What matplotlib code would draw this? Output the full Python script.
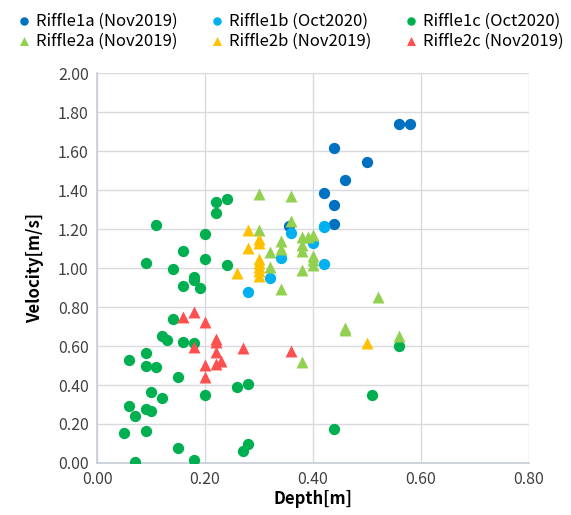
import matplotlib
matplotlib.use("Agg")
import matplotlib.pyplot as plt

plt.rcParams['font.family'] = ['Noto Sans CJK JP', 'DejaVu Sans']

# --- data ---
r1a_depth = [0.56, 0.58, 0.44, 0.50, 0.46, 0.42, 0.44, 0.44, 0.356]
r1a_vel = [1.737, 1.737, 1.614, 1.542, 1.451, 1.385, 1.325, 1.224, 1.215]

r1b_depth = [0.42, 0.36, 0.42, 0.40, 0.34, 0.42, 0.32, 0.28]
r1b_vel = [1.214, 1.178, 1.212, 1.127, 1.05, 1.019, 0.949, 0.877]

r1c_depth = [0.22, 0.24, 0.22, 0.11, 0.20, 0.16, 0.09, 0.20, 0.14, 0.24,
             0.18, 0.18, 0.16, 0.19, 0.14, 0.12, 0.13, 0.16, 0.18, 0.09,
             0.06, 0.09, 0.11, 0.15, 0.10, 0.12, 0.20, 0.06, 0.09, 0.10,
             0.07, 0.05, 0.09, 0.15, 0.18, 0.07, 0.26, 0.28, 0.27, 0.28,
             0.51, 0.44, 0.56]
r1c_vel = [1.337, 1.352, 1.282, 1.219, 1.174, 1.086, 1.024, 1.046, 0.997, 1.015,
           0.952, 0.938, 0.908, 0.899, 0.738, 0.651, 0.631, 0.619, 0.614, 0.562,
           0.528, 0.499, 0.491, 0.440, 0.364, 0.333, 0.350, 0.294, 0.275, 0.268,
           0.243, 0.152, 0.164, 0.077, 0.017, 0.005, 0.388, 0.407, 0.062, 0.096,
           0.349, 0.176, 0.600]

r2a_depth = [0.30, 0.36, 0.36, 0.30, 0.34, 0.34, 0.38, 0.39, 0.40, 0.38,
             0.38, 0.40, 0.40, 0.40, 0.32, 0.32, 0.38, 0.34, 0.52, 0.46,
             0.46, 0.56, 0.38]
r2a_vel = [1.378, 1.369, 1.241, 1.195, 1.138, 1.097, 1.161, 1.160, 1.169, 1.120,
           1.088, 1.061, 1.041, 1.015, 1.084, 1.003, 0.990, 0.890, 0.853, 0.694,
           0.680, 0.651, 0.519]

r2b_depth = [0.28, 0.30, 0.30, 0.28, 0.30, 0.30, 0.30, 0.30, 0.30, 0.26, 0.50]
r2b_vel = [1.195, 1.147, 1.128, 1.101, 1.045, 1.025, 1.005, 0.985, 0.960, 0.976, 0.614]

r2c_depth = [0.16, 0.18, 0.20, 0.22, 0.22, 0.18, 0.22, 0.23, 0.22, 0.20, 0.20, 0.27, 0.36]
r2c_vel = [0.750, 0.776, 0.725, 0.634, 0.620, 0.597, 0.571, 0.525, 0.508, 0.503, 0.443, 0.591, 0.576]

x_ticks = [0.0, 0.2, 0.4, 0.6, 0.8]
y_ticks = [0.0, 0.2, 0.4, 0.6, 0.8, 1.0, 1.2, 1.4, 1.6, 1.8, 2.0]

series = [
    ("Riffle1a (Nov2019)", r1a_depth, r1a_vel, "o", "#0070C0"),
    ("Riffle1b (Oct2020)", r1b_depth, r1b_vel, "o", "#00B0F0"),
    ("Riffle1c (Oct2020)", r1c_depth, r1c_vel, "o", "#00B050"),
    ("Riffle2a (Nov2019)", r2a_depth, r2a_vel, "^", "#92D050"),
    ("Riffle2b (Nov2019)", r2b_depth, r2b_vel, "^", "#FFC000"),
    ("Riffle2c (Nov2019)", r2c_depth, r2c_vel, "^", "#FF5050"),
]

fig = plt.figure(figsize=(5.71, 5.15), dpi=100)
ax = fig.add_axes([0.170, 0.101, 0.756, 0.757])

handles = []
for name, xs, ys, mk, col in series:
    sz = 66 if mk == "o" else 74
    h = ax.scatter(xs, ys, s=sz, marker=mk, color=col, linewidths=0, label=name, zorder=3)
    handles.append(h)

ax.set_xlim(0, 0.8)
ax.set_ylim(0, 2.0)
ax.set_xticks(x_ticks)
ax.set_yticks(y_ticks)
ax.set_xticklabels([f"{v:.2f}" for v in x_ticks])
ax.set_yticklabels([f"{v:.2f}" for v in y_ticks])
ax.tick_params(length=0, labelsize=11.5, colors="#404040", pad=6)
ax.grid(True, color="#D9D9E0", linewidth=1)
ax.set_axisbelow(True)
for side in ["top", "right"]:
    ax.spines[side].set_visible(False)
for side in ["left", "bottom"]:
    ax.spines[side].set_color("#C8CCD8")
    ax.spines[side].set_linewidth(1.2)

ax.set_xlabel("Depth[m]", fontsize=12, fontweight="bold", labelpad=1)
ax.set_ylabel("Velocity[m/s]", fontsize=12, fontweight="bold", labelpad=10)

# legend: rows 1a/1b/1c then 2a/2b/2c, matplotlib fills by column
order = [0, 3, 1, 4, 2, 5]
fig.legend([handles[i] for i in order], [series[i][0] for i in order],
           loc="upper center", bbox_to_anchor=(0.5, 1.0), ncol=3, frameon=False,
           fontsize=12, markerscale=0.75, handletextpad=-0.3, columnspacing=1.4,
           labelspacing=0.2, borderpad=0.25)

fig.savefig("out.png", dpi=100)
